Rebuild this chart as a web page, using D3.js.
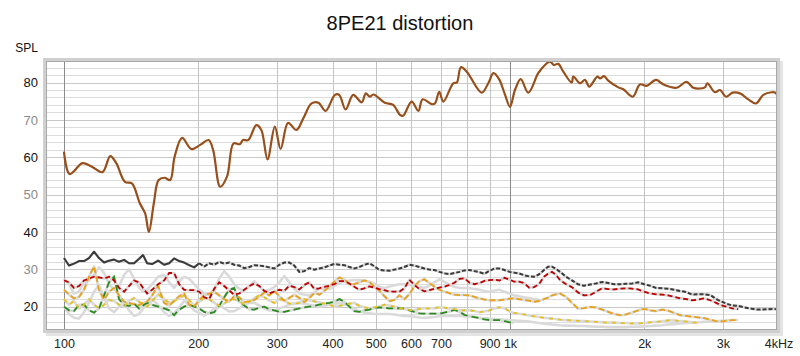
<!DOCTYPE html>
<html><head><meta charset="utf-8">
<script src="https://cdn.jsdelivr.net/npm/d3@7"></script>
<style>body{margin:0;background:#fff}</style>
</head><body>
<svg id="chart" width="800" height="356"></svg>
<script>
const title = "8PE21 distortion";
const yLabel = "SPL";
const yTicks = [20,30,40,50,60,70,80];
const xTicks = [100,200,300,400,500,600,700,900,1000,2000,3000,4000];
const xTickLabels = ["100","200","300","400","500","600","700","900","1k","2k","3k","4kHz"];
const xGrid = [100,200,300,400,500,600,700,800,900,1000,2000,3000,4000];

// Fundamental SPL [Hz, dB]
const spl = [[100,61.5],[103,55.5],[110,58.4],[115,57.6],[122,56.0],[127,60.3],[131,58.4],[137,53.4],[142,53.0],[148,47.6],[152,45.0],[155,40.0],[159,47.6],[163,53.9],[168,54.5],[173,53.9],[177,60.1],[184,65.2],[193,62.2],[202,63.3],[211,64.6],[216,61.9],[224,52.1],[232,54.8],[240,63.7],[248,63.5],[252,64.6],[259,64.6],[270,68.6],[277,67.3],[286,59.4],[297,68.2],[306,62.2],[318,69.2],[332,67.3],[344,70.4],[359,74.4],[372,74.6],[386,72.4],[405,76.7],[414,76.7],[428,72.8],[445,76.7],[465,74.7],[475,77.1],[485,76.2],[494,76.8],[524,74.6],[547,74.0],[567,71.3],[576,71.1],[602,74.9],[623,72.4],[637,75.5],[668,74.2],[679,74.4],[694,77.5],[709,74.9],[746,79.8],[760,80.0],[776,84.1],[800,82.9],[864,77.3],[894,79.8],[918,82.5],[945,80.9],[975,76.7],[1000,73.5],[1026,78.0],[1057,80.9],[1099,77.3],[1157,82.5],[1198,84.7],[1229,85.6],[1255,84.7],[1283,85.0],[1317,82.9],[1375,80.0],[1387,81.6],[1435,79.8],[1473,80.7],[1506,78.9],[1570,81.6],[1592,81.1],[1625,81.7],[1661,80.5],[1749,78.7],[1795,78.2],[1884,76.2],[1956,79.5],[2025,79.1],[2125,80.7],[2207,79.5],[2364,78.6],[2490,80.2],[2576,78.6],[2736,78.7],[2769,79.8],[2882,77.4],[2957,78.0],[3051,76.2],[3157,77.3],[3279,77.1],[3421,75.5],[3561,74.4],[3698,76.7],[3862,77.4],[3928,77.3],[3995,76.4]];

// Shared frequency axis for distortion curves
const freqH = [100,102.6,105.3,108.1,110.9,113.8,116.8,119.8,123,126.2,129.5,132.9,136.4,139.9,143.6,147.4,
150.4,153.6,157.6,162.6,
167.7,172.1,176.6,181.2,186,190.8,195.8,201,206.2,211.6,
217.2,222.9,228.7,234.7,240.8,247.1,253.6,260.3,267.1,274.1,
281.3,288.6,296.2,303.9,311.9,320,328.4,337,345.8,354.9,
364.2,373.7,383.5,393.5,403.8,414.4,425.2,436.4,447.8,459.5,
471.5,483.9,496.5,509.5,522.8,536.5,550.6,565,579.8,594.9,
610.5,626.5,642.9,659.7,677,694.7,712.9,731.6,750.7,770.4,
790.6,811.3,832.5,854.3,876.7,899.6,923.2,947.3,972.1,997.6,
1021,
1047,1075,1103,1132,1161,
1192,1217,1242,1268,1295,
1336,1377,1420,1465,1512,1560,1609,1660,1712,1766,1822,1879,1938,1999,2062,2127,2194,2263,2334,2408,2484,2562,2643,2726,2812,2901,
2961,
3054,3150,3249,3352,3457,3566,3679,3794,3914,
4000];

const thd = [33.0,31.0,31.5,32.2,32.2,33.0,34.7,33.0,31.8,32.3,32.6,32.0,32.5,31.6,31.6,32.8,
33.8,31.6,31.4,32.3,
31.2,31.6,32.9,32.2,31.8,31.1,30.5,31.6,30.7,31.6,
31.2,32.0,31.5,31.8,31.2,31.0,30.3,30.6,31.1,31.0,
30.8,30.5,30.2,31.2,31.8,31.8,31.0,29.3,29.5,30.3,
29.9,30.2,30.5,31.0,31.4,31.2,31.1,30.6,30.2,30.6,
31.2,31.6,30.8,29.8,29.7,29.6,29.9,30.2,30.6,31.2,
31.0,30.6,30.2,29.9,29.8,29.3,28.9,28.7,29.0,29.3,
29.7,29.8,29.5,29.2,28.8,29.6,30.2,30.2,29.8,29.3,
29.1,
28.9,28.4,28.1,28.0,28.6,
29.8,30.7,30.7,30.1,29.3,
28.0,27.0,26.0,25.6,25.9,26.2,26.6,26.3,26.0,26.0,26.1,26.2,26.5,26.0,25.6,25.0,24.9,24.8,24.5,24.2,23.9,23.2,23.3,23.3,23.1,22.0,
21.5,
20.8,20.3,20.2,19.8,19.5,19.2,19.2,19.3,19.4,
19.2];

const h2 = [27.0,26.5,25.0,25.5,27.0,27.5,28.0,27.8,27.5,28.0,27.0,25.0,24.0,25.5,27.0,26.5,
25.0,23.5,24.5,26.0,
27.0,29.0,29.0,26.0,24.5,24.4,24.4,24.0,22.5,22.0,
24.8,26.5,25.5,24.3,23.2,23.5,24.5,25.5,26.2,25.5,
24.2,23.6,24.0,24.5,24.2,25.6,25.2,24.6,25.8,26.5,
24.7,24.9,25.3,25.6,26.0,26.8,26.8,26.2,25.3,24.5,
24.9,25.4,25.1,24.7,24.4,24.0,24.0,24.0,24.9,27.2,
25.8,24.7,24.1,24.4,24.8,25.1,25.3,25.8,26.4,27.4,
27.6,26.4,26.0,26.3,26.9,27.1,27.2,27.0,27.7,27.2,
26.7,
26.7,26.3,25.1,25.2,26.0,
28.0,28.8,29.3,28.5,27.1,
26.0,25.2,23.8,23.0,23.1,24.0,24.9,24.7,24.6,24.8,24.9,24.8,24.6,24.0,23.5,23.3,23.2,23.0,22.6,22.2,22.0,21.7,21.9,22.2,21.7,21.0,
20.4,
20.0,19.5,19.3,null,null,null,null,null,null,
null];

const h3 = [24.5,23.3,22.2,22.6,24.5,28.0,30.8,24.5,21.8,24.0,25.0,23.0,21.3,21.0,20.6,20.4,
21.0,21.3,23.0,25.5,
21.0,20.3,21.5,22.8,23.5,20.5,20.0,21.8,23.0,23.5,
24.0,23.0,22.0,21.3,22.8,22.5,21.2,21.4,21.8,22.6,
23.8,23.0,24.2,22.8,21.6,22.3,23.2,22.3,21.2,22.3,
23.7,23.2,24.2,25.4,26.7,27.8,27.3,26.0,26.0,26.5,
27.0,26.6,25.3,24.2,22.8,21.5,21.8,23.0,22.0,23.3,
25.5,26.8,27.3,26.3,25.3,24.5,24.0,23.6,23.2,23.1,
23.1,23.0,22.6,22.2,21.9,21.7,21.7,21.7,21.9,22.1,
22.2,
22.0,21.8,21.6,21.3,21.5,
22.0,22.4,23.0,23.3,23.5,
22.6,21.0,19.5,19.6,19.9,19.8,19.2,18.6,18.0,17.7,17.9,18.4,19.0,19.4,19.0,18.8,19.2,18.9,18.3,17.7,17.5,17.3,17.1,16.9,16.5,16.1,
16.0,
16.2,16.4,16.4,null,null,null,null,null,null,
null];

const h4 = [22.0,20.5,21.5,19.5,20.5,22.0,20.5,19.5,20.5,21.8,21.5,20.5,20.0,21.5,22.3,21.3,
20.5,20.0,21.5,23.3,
22.0,21.0,21.5,22.2,23.0,21.8,20.2,21.3,22.3,22.0,
21.0,20.2,20.8,21.8,22.0,21.5,20.5,21.3,22.3,23.0,
22.5,21.6,21.0,22.0,21.6,20.8,20.8,21.0,22.0,21.7,
21.4,21.1,20.8,20.5,20.0,20.2,20.5,20.8,21.0,20.2,
19.8,19.5,19.8,20.0,20.5,20.3,20.0,19.6,19.4,19.1,
19.0,19.4,19.5,19.5,19.6,19.8,19.7,19.5,19.3,19.0,
19.0,19.0,18.8,18.5,18.7,19.0,19.5,19.8,19.6,18.7,
18.3,
18.1,17.9,17.6,17.4,17.2,
17.0,16.9,16.8,16.7,16.5,
16.4,16.3,16.2,16.1,16.0,15.9,15.8,15.7,15.7,15.6,15.6,15.5,15.5,15.6,15.8,15.9,16.1,16.3,16.3,16.1,16.0,15.8,15.6,null,null,null,
null,
null,null,null,null,null,null,null,null,null,
null];

const h5 = [20.0,19.0,18.8,20.5,20.5,19.0,18.4,19.5,23.0,26.5,28.0,22.0,20.4,20.2,20.8,19.5,
20.3,21.0,20.5,20.0,
19.5,19.0,17.7,19.2,20.0,20.5,20.0,19.5,18.6,18.2,
18.5,20.2,22.5,24.5,25.0,21.3,20.3,19.3,19.2,19.7,
20.0,19.3,19.0,18.6,18.6,18.9,19.2,19.5,19.8,20.0,
20.2,20.5,20.8,21.0,21.3,22.0,21.3,20.0,18.8,18.6,
19.0,19.2,19.6,19.8,19.7,19.5,19.5,19.6,19.5,19.0,
18.6,18.2,18.1,18.1,18.1,18.1,18.4,18.7,19.1,18.6,
17.8,17.4,17.2,16.9,16.6,16.4,16.4,16.4,16.1,15.8,
15.7];

const noiseA = [27.5,26.0,23.5,24.0,26.5,27.0,28.5,30.5,29.0,26.0,24.5,25.5,28.5,30.0,27.5,25.0,
24.2,24.5,26.0,28.0,
28.5,26.5,25.0,26.8,28.0,27.5,26.0,24.5,23.6,23.2,
24.5,27.5,29.5,28.0,26.0,24.8,24.2,25.5,26.8,25.5,
24.2,24.5,25.2,26.5,28.2,26.5,24.8,23.6,23.2,23.0,
23.8,24.8,24.7,24.7,25.5,26.3,26.7,27.0,27.1,27.1,
27.0,26.6,26.1,25.3,25.0,25.4,25.7,26.0,26.0,25.8,
25.5,25.3,25.0,25.6,26.5,27.3,26.6,25.8,25.3,25.0,
25.0,24.9,24.7,24.5,24.2,24.0,24.3,24.5,24.0,23.5,
23.0,
22.8,22.5,22.3,22.0,21.8];

const noiseB = [20.0,18.0,17.0,16.8,18.5,21.0,24.0,25.8,22.5,19.5,18.5,20.0,21.0,19.0,17.5,18.0,
19.5,20.5,22.0,20.5,
18.5,17.5,18.2,19.8,21.5,20.5,19.0,18.3,17.6,18.3,
19.5,20.3,19.5,18.7,18.8,19.5,20.5,21.0,21.0,20.3,
19.5,19.0,19.0,19.5,20.0,20.5,20.8,21.0,20.8,20.5,
20.2,20.0,20.2,20.5,20.8,21.0,20.8,20.2,19.5,18.7,
18.4,18.2,18.0,18.0,18.0,18.0,17.9,17.7,17.5,17.4,
17.3,17.1,17.0,17.1,17.2,17.4,17.5,17.5,17.5,17.5,
17.4,17.3,17.2,17.0,16.9,16.8,16.7,16.6,16.5,16.4,
16.3,
16.2,16.1,16.0,15.8,15.6,
15.4,15.3,15.2,15.1,15.0,
14.9,14.9,14.8,14.8,14.7,14.6,14.6,14.5,14.5,14.5,14.5,14.6,14.6,14.7,14.8,14.9,15.0,15.2,15.3,15.5,15.6,15.7,15.8,15.9,16.0,16.1,
16.2,
16.3,16.4];

const W = 800, H = 356;
const plot = {l:44, t:59, r:779, b:332};
const svg = d3.select("#chart");

const x = d3.scaleLog().domain([90.2, 4010]).range([plot.l, plot.r]);
const y = d3.scaleLinear().domain([13.2, 86.3]).range([plot.b, plot.t]);

// title
svg.append("text").attr("x", 400).attr("y", 30).attr("text-anchor","middle")
  .attr("font-family","'Liberation Sans', Arial, sans-serif").attr("font-size",20).attr("fill","#111").text(title);

// frame shadow
svg.append("rect").attr("x", plot.l+2).attr("y", plot.t+2).attr("width", plot.r-plot.l+2).attr("height", plot.b-plot.t+2)
  .attr("fill","#e4e4e4");
svg.append("rect").attr("x", plot.l).attr("y", plot.t).attr("width", plot.r-plot.l).attr("height", plot.b-plot.t)
  .attr("fill","#fff");

const g = svg.append("g");
// horizontal grid
const hLines = d3.range(14, 86, 2);
g.selectAll(".hg").data(hLines).enter().append("line")
  .attr("x1", plot.l).attr("x2", plot.r)
  .attr("y1", d => Math.round(y(d))+0.5).attr("y2", d => Math.round(y(d))+0.5)
  .attr("stroke", d => d % 10 === 0 ? "#c8c8c8" : "#dcdcdc").attr("stroke-width",1);
// vertical grid
g.selectAll(".vg").data(xGrid).enter().append("line")
  .attr("y1", plot.t).attr("y2", plot.b)
  .attr("x1", d => Math.round(x(d))+0.5).attr("x2", d => Math.round(x(d))+0.5)
  .attr("stroke", d => (d === 100 || d === 1000) ? "#8c8c8c" : "#c4c4c4").attr("stroke-width",1);

// frame
svg.append("rect").attr("x", plot.l+0.5).attr("y", plot.t+0.5).attr("width", plot.r-plot.l-1).attr("height", plot.b-plot.t-1)
  .attr("fill","none").attr("stroke","#d0d0d0").attr("stroke-width",3);
svg.append("rect").attr("x", plot.l+2.5).attr("y", plot.t+2.5).attr("width", plot.r-plot.l-5).attr("height", plot.b-plot.t-5)
  .attr("fill","none").attr("stroke","#a8a8a8").attr("stroke-width",1);

// axes labels
const yAxis = d3.axisLeft(y).tickValues(yTicks).tickSize(0).tickPadding(6).tickFormat(d3.format("d"));
const ya = svg.append("g").attr("transform", `translate(${plot.l},0)`).call(yAxis);
ya.select(".domain").remove();
ya.selectAll("text").attr("font-family","'Liberation Sans Narrow','Liberation Sans',Arial,sans-serif")
  .attr("font-size",13).attr("fill", d => (d % 20 === 0) ? "#111" : "#8a8a8a");

const xAxis = d3.axisBottom(x).tickValues(xTicks).tickSize(0).tickPadding(0)
  .tickFormat((d,i) => xTickLabels[i]);
const xa = svg.append("g").attr("transform", `translate(0,${plot.b})`).call(xAxis);
xa.select(".domain").remove();
xa.selectAll("text").attr("font-family","'Liberation Sans Narrow','Liberation Sans',Arial,sans-serif")
  .attr("font-size",12.5).attr("fill","#222").attr("dy", null).attr("y", 16);

svg.append("text").attr("x", 38).attr("y", 52).attr("text-anchor","end")
  .attr("font-family","'Liberation Sans',Arial,sans-serif").attr("font-size",12).attr("fill","#111").text(yLabel);

// curves
const clip = svg.append("clipPath").attr("id","pc").append("rect")
  .attr("x", plot.l+3).attr("y", plot.t+3).attr("width", plot.r-plot.l-6).attr("height", plot.b-plot.t-6);
const layer = svg.append("g").attr("clip-path","url(#pc)");

const zip = vals => freqH.slice(0, vals.length).map((f,i) => [f, vals[i]]);
const line = d3.line().defined(d => d[1] != null).x(d => x(d[0])).y(d => y(d[1]));

const grey = "#dadada";
[noiseB, noiseA, h5, h4, h3, h2, thd].forEach(s => {
  layer.append("path").datum(zip(s)).attr("d", line).attr("fill","none")
    .attr("stroke", grey).attr("stroke-width", 2.6).attr("stroke-linejoin","round");
});

const colored = [
  {vals:h5, color:"#2b8c1e", dash:"7,4"},
  {vals:h4, color:"#e6c21e", dash:"4,5"},
  {vals:h3, color:"#e8a21a", dash:"6,3"},
  {vals:h2, color:"#c00000", dash:"5,3"}
];
colored.forEach(c => {
  layer.append("path").datum(zip(c.vals)).attr("d", line).attr("fill","none")
    .attr("stroke", c.color).attr("stroke-width", 1.8).attr("stroke-dasharray", c.dash);
});

const thdPts = zip(thd);
layer.append("path").datum(thdPts.filter(d => d[0] <= 205)).attr("d", line).attr("fill","none")
  .attr("stroke","#3a3a3a").attr("stroke-width",2).attr("stroke-linejoin","round");
layer.append("path").datum(thdPts.filter(d => d[0] >= 201)).attr("d", line).attr("fill","none")
  .attr("stroke","#3a3a3a").attr("stroke-width",2).attr("stroke-dasharray","4,2");

layer.append("path").datum(spl).attr("d", d3.line().x(d => x(d[0])).y(d => y(d[1])).curve(d3.curveCatmullRom.alpha(0.5)))
  .attr("fill","none").attr("stroke","#974f1b").attr("stroke-width",2.2).attr("stroke-linejoin","round");
</script>
</body></html>
